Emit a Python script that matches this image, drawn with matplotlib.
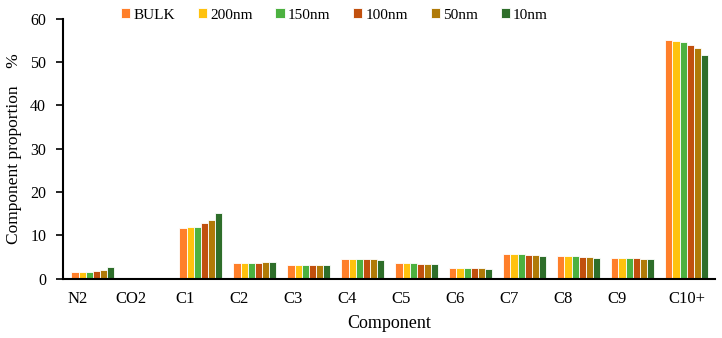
import numpy as np
import matplotlib.pyplot as plt

plt.rcParams['font.family'] = ['Liberation Serif', 'DejaVu Serif']

components = ["N2", "CO2", "C1", "C2", "C3", "C4", "C5", "C6", "C7", "C8", "C9", "C10+"]
series = ["BULK", "200nm", "150nm", "100nm", "50nm", "10nm"]

bulk = [1.5, 0, 11.65, 3.6, 3.1, 4.55, 3.5, 2.45, 5.65, 5.2, 4.8, 55.0]
nm200 = [1.5, 0, 11.8, 3.6, 3.1, 4.55, 3.5, 2.45, 5.6, 5.15, 4.75, 54.9]
nm150 = [1.5, 0, 11.95, 3.6, 3.1, 4.55, 3.5, 2.45, 5.55, 5.15, 4.7, 54.6]
nm100 = [1.75, 0, 12.7, 3.6, 3.1, 4.5, 3.45, 2.4, 5.4, 5.05, 4.7, 53.9]
nm50 = [1.95, 0, 13.5, 3.7, 3.1, 4.5, 3.45, 2.4, 5.4, 5.0, 4.55, 53.2]
nm10 = [2.65, 0, 15.1, 3.75, 3.05, 4.35, 3.4, 2.3, 5.25, 4.8, 4.45, 51.6]
values = [bulk, nm200, nm150, nm100, nm50, nm10]

colors = ['#FF7F2A', '#FFC20E', '#4CB140', '#C1500E', '#B07A08', '#2E6E2A']

fig = plt.figure(figsize=(7.22, 3.38), dpi=100)
ax = fig.add_axes([0.087, 0.176, 0.903, 0.769])

x = np.arange(len(components))
w = 0.132
for i, (name, vals) in enumerate(zip(series, values)):
    ax.bar(x + (i - 2.5) * w, vals, width=w, color=colors[i], label=name,
           edgecolor='white', linewidth=0.6)

ax.set_xlim(-0.556, 11.52)
ax.set_ylim(0, 60)
ax.set_yticks(range(0, 61, 10))

# tick labels sit a little left of the bar groups in the original
label_pos = x - 0.29
label_pos[-1] = x[-1] + 0.0
ax.set_xticks(label_pos)
ax.set_xticklabels(components)
ax.tick_params(axis='x', length=0, pad=9, labelsize=12)
ax.tick_params(axis='y', direction='out', length=5, width=1.2, labelsize=11.5, pad=7)

for s in ['top', 'right']:
    ax.spines[s].set_visible(False)
for s in ['left', 'bottom']:
    ax.spines[s].set_linewidth(1.5)

ax.set_xlabel("Component", fontsize=13, labelpad=6)
ax.set_ylabel("Component proportion    %", fontsize=12.5, labelpad=6)

ax.legend(loc='center left', bbox_to_anchor=(121 / 722, 1 - 15 / 338),
          bbox_transform=fig.transFigure, ncol=6, frameon=False,
          fontsize=11, handlelength=0.6, handleheight=0.6, handletextpad=0.2,
          columnspacing=1.5, borderpad=0, borderaxespad=0)

fig.savefig("out.png", dpi=100)
